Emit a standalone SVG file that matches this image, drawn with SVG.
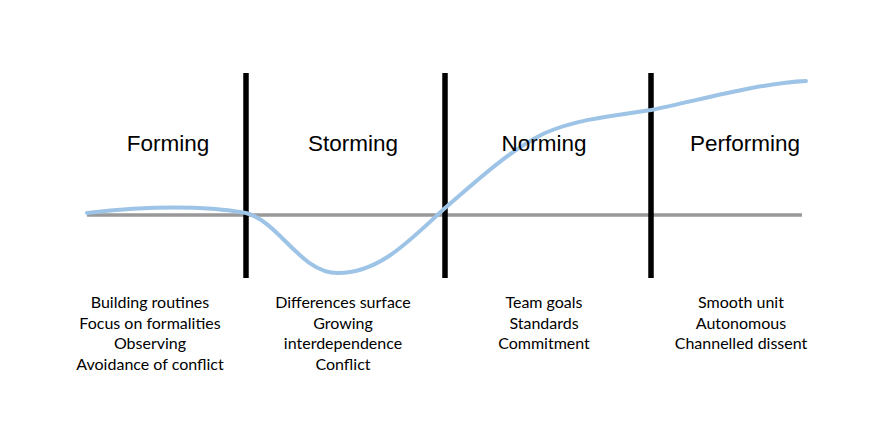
<svg xmlns="http://www.w3.org/2000/svg" width="888" height="434" viewBox="0 0 888 434">
<style>
.stage{font-family:"Liberation Sans",Arial,sans-serif;font-size:22.5px;fill:#000;text-anchor:middle}
.desc{font-family:Lato,"Open Sans",sans-serif;font-size:16px;fill:#000;text-anchor:middle}
.div{stroke:#000;stroke-width:5.5}
.base{stroke:#999;stroke-width:3.5}
.curve{fill:none;stroke:#9dc3e6;stroke-width:4;stroke-linecap:round}
</style>
<rect width="888" height="434" fill="#fff"/>
<g id="connectors">
<line class="base" x1="87" y1="215" x2="802" y2="215"/>
<line class="div" x1="246" y1="73" x2="246" y2="278"/>
<line class="div" x1="445" y1="73" x2="445" y2="278"/>
<line class="div" x1="651" y1="73" x2="651" y2="278"/>
<path class="curve" d="M87,213 C140,207 200,205 246,213 C280,222 300,273 338,273 C380,273 410,240 445,208 C480,178 510,150 545,133 C580,118 620,115 651,110 C700,100 760,83 806,81"/>
</g>
<g id="forming">
<text class="stage" x="168" y="151">Forming</text>
<text class="desc" x="150" y="308">Building routines</text>
<text class="desc" x="150" y="329">Focus on formalities</text>
<text class="desc" x="150" y="349">Observing</text>
<text class="desc" x="150" y="370">Avoidance of conflict</text>
</g>
<g id="storming">
<text class="stage" x="353" y="151">Storming</text>
<text class="desc" x="343" y="308">Differences surface</text>
<text class="desc" x="343" y="329">Growing</text>
<text class="desc" x="343" y="349">interdependence</text>
<text class="desc" x="343" y="370">Conflict</text>
</g>
<g id="norming">
<text class="stage" x="544" y="151">Norming</text>
<text class="desc" x="544" y="308">Team goals</text>
<text class="desc" x="544" y="329">Standards</text>
<text class="desc" x="544" y="349">Commitment</text>
</g>
<g id="performing">
<text class="stage" x="745" y="151">Performing</text>
<text class="desc" x="741" y="308">Smooth unit</text>
<text class="desc" x="741" y="329">Autonomous</text>
<text class="desc" x="741" y="349">Channelled dissent</text>
</g>
</svg>
